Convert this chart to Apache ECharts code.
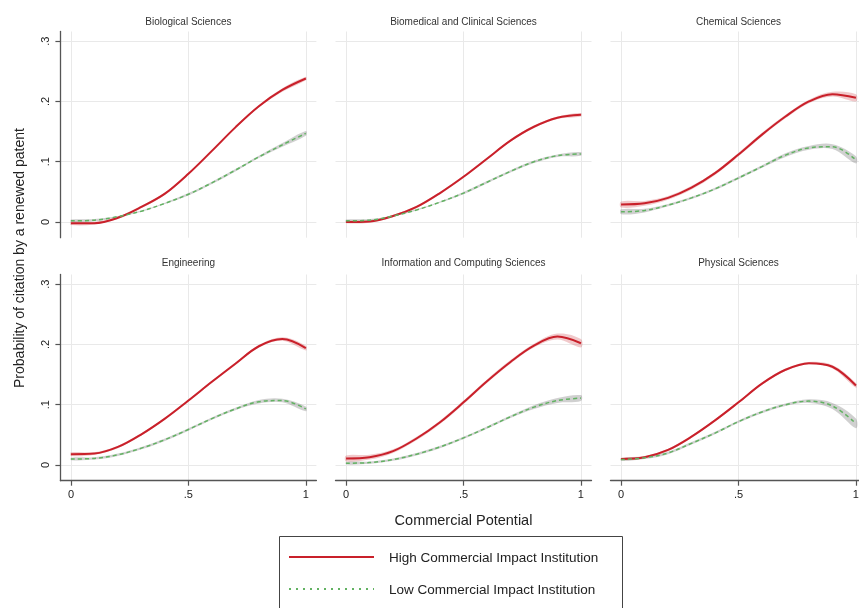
<!DOCTYPE html>
<html>
<head>
<meta charset="utf-8">
<script src="https://cdn.jsdelivr.net/npm/echarts@6/dist/echarts.min.js"></script>
<style>
  html, body { margin: 0; padding: 0; background: #ffffff; }
  #chart { width: 859px; height: 608px; }
</style>
</head>
<body>
<div id="chart"></div>
<script>
// Predicted probability of citation by a renewed patent, by commercial potential
const commercialPotential = [0, 0.1, 0.2, 0.3, 0.4, 0.5, 0.6, 0.7, 0.8, 0.9, 1];

const fieldNames = [
  'Biological Sciences',
  'Biomedical and Clinical Sciences',
  'Chemical Sciences',
  'Engineering',
  'Information and Computing Sciences',
  'Physical Sciences'
];

const seriesNames = ['High Commercial Impact Institution', 'Low Commercial Impact Institution'];

// point estimates
const bioHigh = [-0.002, -0.002, 0.007, 0.025, 0.047, 0.080, 0.118, 0.157, 0.192, 0.219, 0.238];
const bioLow  = [0.002, 0.003, 0.009, 0.018, 0.031, 0.046, 0.065, 0.086, 0.108, 0.128, 0.147];
const bmHigh  = [0.000, 0.001, 0.010, 0.025, 0.048, 0.075, 0.105, 0.135, 0.158, 0.173, 0.178];
const bmLow   = [0.002, 0.003, 0.010, 0.020, 0.033, 0.048, 0.066, 0.084, 0.100, 0.110, 0.113];
const chHigh  = [0.029, 0.031, 0.040, 0.057, 0.081, 0.112, 0.145, 0.175, 0.200, 0.212, 0.206];
const chLow   = [0.017, 0.019, 0.028, 0.040, 0.055, 0.073, 0.092, 0.111, 0.123, 0.125, 0.103];
const engHigh = [0.018, 0.019, 0.030, 0.051, 0.077, 0.107, 0.138, 0.168, 0.197, 0.209, 0.194];
const engLow  = [0.010, 0.011, 0.017, 0.028, 0.042, 0.059, 0.077, 0.093, 0.105, 0.107, 0.093];
const infHigh = [0.011, 0.013, 0.023, 0.044, 0.071, 0.104, 0.139, 0.171, 0.198, 0.213, 0.202];
const infLow  = [0.003, 0.004, 0.009, 0.018, 0.030, 0.045, 0.062, 0.080, 0.096, 0.107, 0.111];
const phyHigh = [0.010, 0.013, 0.025, 0.047, 0.074, 0.104, 0.135, 0.158, 0.169, 0.163, 0.132];
const phyLow  = [0.009, 0.012, 0.020, 0.036, 0.053, 0.072, 0.088, 0.100, 0.106, 0.098, 0.069];

// confidence interval half-widths
const bioHighCI = [0.003, 0.002, 0.002, 0.002, 0.002, 0.002, 0.002, 0.002, 0.002, 0.003, 0.003];
const bioLowCI  = [0.002, 0.002, 0.001, 0.001, 0.001, 0.002, 0.002, 0.002, 0.002, 0.003, 0.004];
const bmHighCI  = [0.002, 0.002, 0.002, 0.002, 0.002, 0.002, 0.002, 0.002, 0.002, 0.002, 0.003];
const bmLowCI   = [0.002, 0.002, 0.001, 0.001, 0.001, 0.002, 0.002, 0.002, 0.002, 0.002, 0.003];
const chHighCI  = [0.005, 0.004, 0.003, 0.003, 0.003, 0.003, 0.003, 0.003, 0.003, 0.004, 0.006];
const chLowCI   = [0.004, 0.003, 0.002, 0.002, 0.002, 0.002, 0.002, 0.003, 0.003, 0.004, 0.006];
const engHighCI = [0.003, 0.002, 0.002, 0.002, 0.002, 0.002, 0.002, 0.002, 0.002, 0.003, 0.004];
const engLowCI  = [0.002, 0.002, 0.002, 0.002, 0.002, 0.002, 0.002, 0.002, 0.003, 0.003, 0.004];
const infHighCI = [0.005, 0.004, 0.003, 0.003, 0.003, 0.003, 0.003, 0.003, 0.003, 0.005, 0.007];
const infLowCI  = [0.002, 0.002, 0.002, 0.002, 0.002, 0.002, 0.002, 0.002, 0.003, 0.004, 0.005];
const phyHighCI = [0.002, 0.002, 0.002, 0.002, 0.002, 0.002, 0.002, 0.002, 0.002, 0.003, 0.004];
const phyLowCI  = [0.002, 0.002, 0.002, 0.002, 0.002, 0.002, 0.002, 0.002, 0.003, 0.005, 0.008];

// tick positions and their labels
const xTickValues = [0, 0.5, 1];
const xTickLabels = ['0', '.5', '1'];
const yTickValues = [0, 0.1, 0.2, 0.3];
const yTickLabels = ['0', '.1', '.2', '.3'];

const xTitle = 'Commercial Potential';
const yTitle = 'Probability of citation by a renewed patent';

// ---- layout ----
const FONT = '"Liberation Sans", Arial, Helvetica, sans-serif';
const X_MIN = -0.045, X_MAX = 1.045;
const Y_MIN = -0.026, Y_MAX = 0.316;
const colLeft = [60.4, 335.5, 610.5];
const rowTop = [31.5, 274.5];
const GRID_W = 256, GRID_H = 206.2;

const RED = '#c9202a';
const GREEN = '#62b262';
const RED_BAND = 'rgba(205, 60, 70, 0.28)';
const GRAY_BAND = 'rgba(120, 120, 120, 0.35)';
const AXIS_COLOR = '#555555';
const GRID_COLOR = '#e9e9e9';

const panels = [
  { high: bioHigh, low: bioLow, highCI: bioHighCI, lowCI: bioLowCI },
  { high: bmHigh,  low: bmLow,  highCI: bmHighCI,  lowCI: bmLowCI },
  { high: chHigh,  low: chLow,  highCI: chHighCI,  lowCI: chLowCI },
  { high: engHigh, low: engLow, highCI: engHighCI, lowCI: engLowCI },
  { high: infHigh, low: infLow, highCI: infHighCI, lowCI: infLowCI },
  { high: phyHigh, low: phyLow, highCI: phyHighCI, lowCI: phyLowCI }
];

function labelFor(values, labels) {
  return function (v) {
    for (let k = 0; k < values.length; k++) {
      if (Math.abs(values[k] - v) < 1e-9) return labels[k];
    }
    return '';
  };
}

// shaded confidence band drawn as one polygon per panel
function bandRenderer(params, api) {
  if (params.dataIndexInside !== 0) return null;
  const n = params.dataInsideLength;
  const upper = [], lower = [];
  for (let k = 0; k < n; k++) {
    const x = api.value(0, k);
    upper.push(api.coord([x, api.value(2, k)]));
    lower.push(api.coord([x, api.value(1, k)]));
  }
  return {
    type: 'polygon',
    silent: true,
    shape: { points: upper.concat(lower.reverse()), smooth: 0.35 },
    style: { fill: api.visual('color') }
  };
}

function centredText(text, x, y, font, fill, extra) {
  return Object.assign({
    type: 'text', x: x, y: y, silent: true,
    style: {
      text: text, fill: fill, font: font,
      align: 'center', verticalAlign: 'middle', textAlign: 'center', textVerticalAlign: 'middle'
    }
  }, extra || {});
}

const grids = [], xAxes = [], yAxes = [], series = [], graphics = [];

panels.forEach(function (p, i) {
  const col = i % 3, row = Math.floor(i / 3);
  const bottomRow = row === 1, leftCol = col === 0;
  grids.push({
    left: colLeft[col], top: rowTop[row], width: GRID_W, height: GRID_H,
    containLabel: false, outerBoundsMode: 'none'
  });
  xAxes.push({
    type: 'value', gridIndex: i, min: X_MIN, max: X_MAX,
    axisLine: { show: bottomRow, onZero: false, lineStyle: { color: AXIS_COLOR, width: 1.3 } },
    axisTick: { show: bottomRow, length: 5, customValues: xTickValues, lineStyle: { color: AXIS_COLOR, width: 1.2 } },
    axisLabel: {
      show: bottomRow, customValues: xTickValues, formatter: labelFor(xTickValues, xTickLabels),
      margin: 9, fontSize: 11, color: '#222', fontFamily: FONT
    },
    splitLine: { show: true, lineStyle: { color: GRID_COLOR, width: 1 } }
  });
  yAxes.push({
    type: 'value', gridIndex: i, min: Y_MIN, max: Y_MAX,
    axisLine: { show: leftCol, onZero: false, lineStyle: { color: AXIS_COLOR, width: 1.3 } },
    axisTick: { show: leftCol, length: 5, customValues: yTickValues, lineStyle: { color: AXIS_COLOR, width: 1.2 } },
    axisLabel: {
      show: leftCol, customValues: yTickValues, formatter: labelFor(yTickValues, yTickLabels),
      rotate: 90, margin: 9, fontSize: 11, color: '#222', fontFamily: FONT
    },
    splitLine: { show: true, lineStyle: { color: GRID_COLOR, width: 1 } }
  });

  const bandRows = function (est, ci) {
    return commercialPotential.map(function (x, k) { return [x, est[k] - ci[k], est[k] + ci[k]]; });
  };
  const lineRows = function (est) {
    return commercialPotential.map(function (x, k) { return [x, est[k]]; });
  };

  series.push({
    type: 'custom', name: 'high-band-' + i, xAxisIndex: i, yAxisIndex: i,
    renderItem: bandRenderer, itemStyle: { color: RED_BAND },
    encode: { x: 0, y: [1, 2] }, data: bandRows(p.high, p.highCI), silent: true, z: 1
  });
  series.push({
    type: 'custom', name: 'low-band-' + i, xAxisIndex: i, yAxisIndex: i,
    renderItem: bandRenderer, itemStyle: { color: GRAY_BAND },
    encode: { x: 0, y: [1, 2] }, data: bandRows(p.low, p.lowCI), silent: true, z: 1
  });
  series.push({
    type: 'line', name: seriesNames[0], xAxisIndex: i, yAxisIndex: i,
    data: lineRows(p.high), smooth: 0.35, symbol: 'none',
    itemStyle: { color: RED }, lineStyle: { color: RED, width: 2 }, z: 3, silent: true
  });
  series.push({
    type: 'line', name: seriesNames[1], xAxisIndex: i, yAxisIndex: i,
    data: lineRows(p.low), smooth: 0.35, symbol: 'none',
    itemStyle: { color: GREEN }, lineStyle: { color: GREEN, width: 1.5, type: [4, 3] }, z: 4, silent: true
  });

  // panel heading, centred on the middle of the x range
  const cx = colLeft[col] + (0.5 - X_MIN) / (X_MAX - X_MIN) * GRID_W;
  graphics.push(centredText(fieldNames[i], cx, bottomRow ? 263 : 22, '10px ' + FONT, '#333'));
});

// shared axis titles
graphics.push(centredText(xTitle, colLeft[1] + (0.5 - X_MIN) / (X_MAX - X_MIN) * GRID_W, 521,
  '14.5px ' + FONT, '#222'));
graphics.push(centredText(yTitle, 20, 258, '14px ' + FONT, '#222', { rotation: Math.PI / 2 }));

// legend key: framed box with a sample line per group
const LEG = { x: 279, y: 536, w: 343, h: 110, keyX1: 289, keyX2: 374, textX: 389, rowY: [557, 589] };
graphics.push({
  type: 'rect', silent: true,
  shape: { x: LEG.x + 0.5, y: LEG.y + 0.5, width: LEG.w, height: LEG.h },
  style: { fill: 'none', stroke: '#444', lineWidth: 1 }
});
const legendStyles = [
  { stroke: RED, lineWidth: 2 },
  { stroke: GREEN, lineWidth: 2, lineDash: [2, 5] }
];
seriesNames.forEach(function (name, k) {
  graphics.push({
    type: 'line', silent: true,
    shape: { x1: LEG.keyX1, y1: LEG.rowY[k], x2: LEG.keyX2, y2: LEG.rowY[k] },
    style: legendStyles[k]
  });
  graphics.push({
    type: 'text', x: LEG.textX, y: LEG.rowY[k] + 1, silent: true,
    style: {
      text: name, fill: '#222', font: '13.5px ' + FONT,
      align: 'left', verticalAlign: 'middle', textAlign: 'left', textVerticalAlign: 'middle'
    }
  });
});

const chart = echarts.init(document.getElementById('chart'), null, { renderer: 'canvas' });
chart.setOption({
  animation: false,
  backgroundColor: '#ffffff',
  grid: grids,
  xAxis: xAxes,
  yAxis: yAxes,
  series: series,
  graphic: graphics
});
</script>
</body>
</html>
